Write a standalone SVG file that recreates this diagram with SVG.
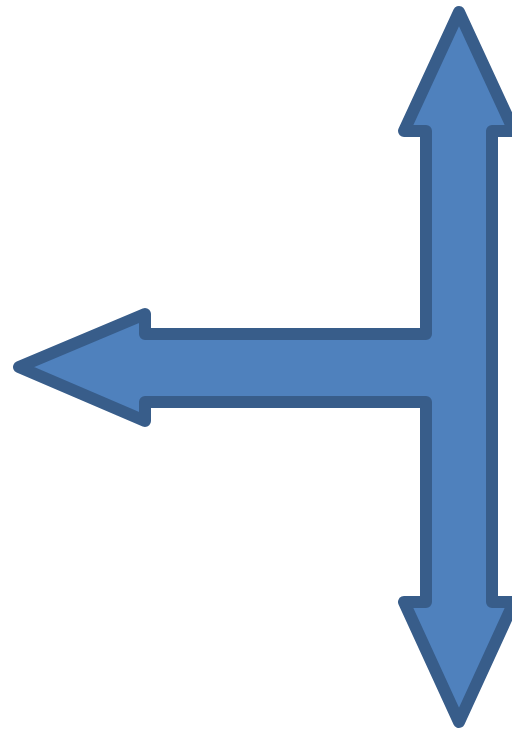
<svg xmlns="http://www.w3.org/2000/svg" width="512" height="735" viewBox="0 0 512 735">
<style>.arrow{fill:#4F81BD;stroke:#385D8A;stroke-width:12;stroke-linejoin:round}</style>
<rect width="512" height="735" fill="#ffffff"/>
<g id="arrow">
<path class="arrow" d="M459,12 L514,131 L492,131 L492,602 L514,602 L459,722 L404,602 L426,602 L426,402 L145,402 L145,421 L19,367 L145,314 L145,334 L426,334 L426,131 L404,131 Z"/>
</g>
</svg>
